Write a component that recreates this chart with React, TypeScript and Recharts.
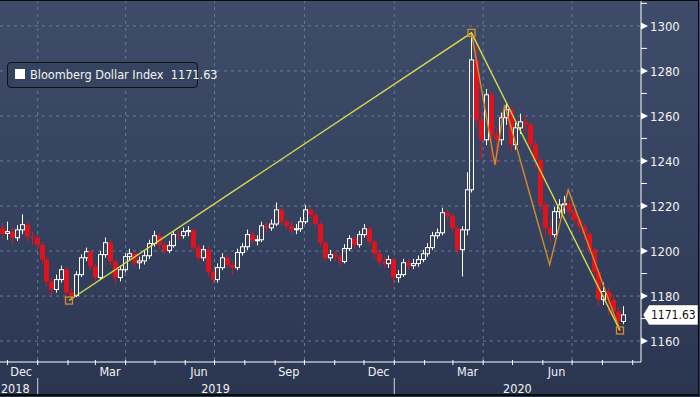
import React from "react";
import {
  ComposedChart,
  Bar,
  Scatter,
  XAxis,
  YAxis,
  CartesianGrid,
  ReferenceDot
} from "recharts";

const FONT = "'DejaVu Sans Condensed', 'Liberation Sans Narrow', 'Liberation Sans', sans-serif";

// candles: one every 5 calendar days, open = previous close
const firstDate = "2018-11-26";
const stepDays = 5;
const firstOpen = 1210.0;

const closes = [
  1207.8, 1208.6, 1205.9, 1209.4, 1211.7, 1206.4, 1205.9, 1202.8, 1196.2, 1186.4,
  1182.9, 1187.3, 1191.7, 1181.5, 1180.2, 1189.5, 1197.0, 1199.7, 1193.1, 1188.2,
  1198.4, 1203.7, 1195.3, 1188.2, 1191.7, 1197.5, 1198.8, 1194.8, 1195.6, 1197.9,
  1203.3, 1206.8, 1202.8, 1200.2, 1202.4, 1207.3, 1206.8, 1208.6, 1209.1, 1201.5,
  1197.0, 1200.6, 1190.8, 1187.3, 1192.6, 1197.0, 1193.9, 1192.6, 1199.3, 1201.9,
  1207.3, 1204.6, 1205.0, 1211.2, 1210.3, 1212.0, 1218.3, 1213.0, 1211.2, 1209.5,
  1209.9, 1213.0, 1218.3, 1216.1, 1212.1, 1203.7, 1197.0, 1198.4, 1197.5, 1195.3,
  1201.1, 1205.5, 1202.8, 1207.3, 1209.9, 1204.1, 1198.8, 1195.3, 1194.4, 1196.2,
  1188.2, 1189.5, 1194.8, 1193.5, 1194.4, 1196.2, 1198.8, 1201.5, 1206.8, 1208.1,
  1217.0, 1215.6, 1210.3, 1200.6, 1209.4, 1227.2, 1284.9, 1258.3, 1249.4, 1269.4,
  1251.6, 1249.4, 1259.2, 1262.8, 1247.2, 1254.7, 1257.4, 1256.1, 1247.2, 1240.5,
  1220.5, 1210.3, 1207.3, 1217.5, 1220.5, 1221.0, 1217.5, 1213.9, 1210.8, 1207.7,
  1200.6, 1190.8, 1178.4, 1182.0, 1178.4, 1173.1, 1168.7, 1171.63
];

const highs = [
  1212.5, 1213.0, 1210.5, 1211.5, 1216.3, 1213.0, 1208.5, 1207.5, 1204.0, 1197.5,
  1188.0, 1189.5, 1193.5, 1193.0, 1183.5, 1191.0, 1198.5, 1201.5, 1200.5, 1194.5,
  1200.0, 1206.0, 1205.0, 1196.5, 1193.5, 1199.0, 1201.0, 1200.0, 1197.5, 1200.0,
  1205.0, 1209.0, 1208.0, 1204.0, 1204.5, 1209.0, 1209.0, 1210.5, 1211.0, 1210.0,
  1203.0, 1202.5, 1202.0, 1192.0, 1194.5, 1199.0, 1198.5, 1195.5, 1201.0, 1203.5,
  1209.5, 1208.5, 1207.0, 1213.0, 1213.0, 1214.0, 1221.5, 1219.5, 1214.5, 1213.0,
  1212.0, 1215.0, 1220.5, 1219.5, 1217.5, 1213.0, 1204.5, 1200.5, 1200.0, 1198.5,
  1203.0, 1207.0, 1206.5, 1209.0, 1212.0, 1210.5, 1205.0, 1200.0, 1197.5, 1198.0,
  1197.0, 1191.5, 1196.5, 1196.5, 1196.5, 1198.0, 1200.5, 1203.5, 1208.5, 1210.0,
  1219.2, 1218.5, 1216.5, 1211.0, 1211.0, 1235.0, 1296.9, 1293.8, 1262.0, 1272.0,
  1271.0, 1255.0, 1261.5, 1265.5, 1264.0, 1257.0, 1261.0, 1260.0, 1257.5, 1249.0,
  1242.0, 1222.0, 1214.0, 1219.5, 1223.0, 1224.5, 1222.5, 1219.0, 1215.0, 1212.0,
  1208.5, 1201.5, 1192.0, 1186.0, 1184.0, 1180.5, 1175.0, 1175.5
];

const lows = [
  1205.5, 1205.0, 1203.0, 1204.5, 1207.5, 1204.0, 1202.5, 1200.5, 1194.0, 1184.5,
  1180.2, 1181.5, 1186.0, 1179.0, 1178.0, 1179.5, 1188.5, 1195.5, 1191.5, 1186.5,
  1187.5, 1197.0, 1193.5, 1185.0, 1186.5, 1190.5, 1196.0, 1193.0, 1192.0, 1194.0,
  1196.5, 1202.0, 1201.0, 1198.5, 1199.0, 1201.5, 1205.0, 1205.5, 1206.5, 1200.0,
  1195.5, 1195.5, 1189.0, 1185.5, 1186.0, 1191.5, 1192.0, 1189.5, 1191.5, 1198.0,
  1200.5, 1203.0, 1202.5, 1204.0, 1208.5, 1209.0, 1211.0, 1211.5, 1209.5, 1207.5,
  1207.5, 1208.5, 1212.0, 1214.5, 1210.5, 1202.0, 1195.5, 1195.5, 1195.5, 1193.5,
  1194.5, 1200.0, 1201.0, 1201.5, 1206.0, 1202.5, 1197.0, 1193.5, 1192.5, 1192.5,
  1185.0, 1186.0, 1188.5, 1191.5, 1192.0, 1193.0, 1195.0, 1197.5, 1200.5, 1205.5,
  1207.0, 1213.5, 1208.5, 1198.5, 1188.7, 1207.0, 1226.0, 1255.0, 1240.5, 1247.0,
  1241.0, 1238.5, 1247.0, 1256.0, 1244.0, 1245.0, 1252.0, 1252.5, 1244.5, 1237.0,
  1218.0, 1206.5, 1204.0, 1206.0, 1214.5, 1216.5, 1215.0, 1211.5, 1208.5, 1205.0,
  1198.5, 1188.5, 1175.5, 1176.0, 1171.5, 1170.0, 1164.7, 1167.5
];

const yellowTrend = [
  { date: "2019-02-02", value: 1178.0 },
  { date: "2020-03-20", value: 1296.9 },
  { date: "2020-08-19", value: 1164.7 }
];

const orangeTrend = [
  { date: "2020-03-20", value: 1296.9 },
  { date: "2020-04-13", value: 1238.3 },
  { date: "2020-04-23", value: 1264.9 },
  { date: "2020-06-08", value: 1193.9 },
  { date: "2020-06-27", value: 1227.2 },
  { date: "2020-08-19", value: 1164.7 }
];

const monthStarts = [
  "2018-12-01", "2019-01-01", "2019-02-01", "2019-03-01", "2019-04-01", "2019-05-01",
  "2019-06-01", "2019-07-01", "2019-08-01", "2019-09-01", "2019-10-01", "2019-11-01",
  "2019-12-01", "2020-01-01", "2020-02-01", "2020-03-01", "2020-04-01", "2020-05-01",
  "2020-06-01", "2020-07-01", "2020-08-01", "2020-09-01"
];
const quarterStarts = [
  "2019-01-01", "2019-04-01", "2019-07-01", "2019-10-01",
  "2020-01-01", "2020-04-01", "2020-07-01"
];
const yearStarts = ["2019-01-01", "2020-01-01"];
const monthLabelDates = [
  "2018-12-15", "2019-03-16", "2019-06-15", "2019-09-15",
  "2019-12-16", "2020-03-16", "2020-06-15"
];
const monthLabelTexts = ["Dec", "Mar", "Jun", "Sep", "Dec", "Mar", "Jun"];
const yearLabelDates = ["2018-12-09", "2019-07-02", "2020-05-06"];
const yearLabelTexts = ["2018", "2019", "2020"];

const yTicks = [1160, 1170, 1180, 1190, 1200, 1210, 1220, 1230, 1240, 1250, 1260, 1270, 1280, 1290, 1300, 1310];
const yGrid = [1160, 1180, 1200, 1220, 1240, 1260, 1280, 1300];
const lastValue = 1171.63;

const day0 = Date.UTC(2019, 0, 1);
const dayNum = (s: string) => {
  const [y, m, d] = s.split("-").map(Number);
  return (Date.UTC(y, m - 1, d) - day0) / 86400000;
};

const xDomain = [-38.6, 617.5];
const yDomain = [1150.7, 1311.5];

const candles = closes.map((close, i) => {
  const open = i === 0 ? firstOpen : closes[i - 1];
  return {
    day: dayNum(firstDate) + i * stepDays,
    open,
    close,
    high: highs[i],
    low: lows[i],
    range: [lows[i], highs[i]]
  };
});

const yellowPts = yellowTrend.map((p) => ({ day: dayNum(p.date), value: p.value }));
const orangePts = orangeTrend.map((p) => ({ day: dayNum(p.date), value: p.value }));

const monthStartDays = monthStarts.map(dayNum);
const yearStartDays = yearStarts.map(dayNum);
const monthLabelDays = monthLabelDates.map(dayNum);
const yearLabelDays = yearLabelDates.map(dayNum);
const xTicks = [...monthStartDays, ...monthLabelDays, ...yearLabelDays].sort((a, b) => a - b);

const RED = "#e0121c";

function Candle(props: any) {
  const { x, y, width, height, payload } = props;
  if (!payload || height == null) return null;
  const { open, close, high, low } = payload;
  const up = close >= open;
  const ratio = high > low ? height / (high - low) : 0;
  const top = y + (high - Math.max(open, close)) * ratio;
  const bot = y + (high - Math.min(open, close)) * ratio;
  const cx = Math.round(x + width / 2) + 0.5;
  const color = up ? "#ffffff" : RED;
  return (
    <g>
      <line x1={cx} x2={cx} y1={y} y2={top} stroke={color} strokeWidth={1} />
      <line x1={cx} x2={cx} y1={bot} y2={y + height} stroke={color} strokeWidth={1} />
      {up ? (
        <rect x={cx - 2} y={top} width={4} height={Math.max(bot - top, 1)} fill="none" stroke={color} strokeWidth={1} />
      ) : (
        <rect x={cx - 2.5} y={top} width={5} height={Math.max(bot - top, 1)} fill={color} />
      )}
    </g>
  );
}

function XTick(props: any) {
  const { x, y, payload } = props;
  const v = payload.value;
  const out: React.ReactNode[] = [];
  if (monthStartDays.includes(v)) {
    out.push(<line key="t" x1={x} x2={x} y1={y - 2} y2={y + 3} stroke="#ffffff" strokeWidth={1} />);
  }
  if (yearStartDays.includes(v)) {
    out.push(<line key="s" x1={x} x2={x} y1={y + 16} y2={y + 33} stroke="#cfd4dc" strokeWidth={1} />);
  }
  const mi = monthLabelDays.indexOf(v);
  if (mi >= 0) {
    out.push(
      <text key="m" x={x} y={y + 14} textAnchor="middle" fill="#f2f2f2" fontSize={12.5} fontFamily={FONT}>
        {monthLabelTexts[mi]}
      </text>
    );
  }
  const yi = yearLabelDays.indexOf(v);
  if (yi >= 0) {
    out.push(
      <text key="y" x={x} y={y + 31} textAnchor="middle" fill="#f2f2f2" fontSize={12.5} fontFamily={FONT}>
        {yearLabelTexts[yi]}
      </text>
    );
  }
  return <g>{out}</g>;
}

function YTick(props: any) {
  const { x, y, payload } = props;
  const v = payload.value;
  if (v % 20 === 0) {
    return (
      <g>
        <path d={`M${x} ${y - 3.5} L${x + 7} ${y} L${x} ${y + 3.5} Z`} fill="#ffffff" />
        <text x={x + 9} y={y + 5} fill="#f2f2f2" fontSize={13} fontFamily={FONT}>
          {v}
        </text>
      </g>
    );
  }
  return <line x1={x} x2={x + 6} y1={y} y2={y} stroke="#ffffff" strokeWidth={1} />;
}

function ValueTag(props: any) {
  const { cx, cy } = props;
  const l = cx + 2;
  return (
    <g>
      <path
        d={`M${l} ${cy} L${l + 6} ${cy - 10} L${l + 55} ${cy - 10} L${l + 55} ${cy + 10} L${l + 6} ${cy + 10} Z`}
        fill="#ffffff"
        stroke="#333"
        strokeWidth={0.5}
      />
      <text x={l + 8} y={cy + 4.5} fill="#111" fontSize={12} fontFamily={FONT}>
        {lastValue.toFixed(2)}
      </text>
    </g>
  );
}

const TrendBox = (p: any) => (
  <rect x={p.cx - 3.5} y={p.cy - 3.5} width={7} height={7} fill="none" stroke="#d98c2b" strokeWidth={1.3} />
);
const NoDot = () => <g />;

export default function App() {
  return (
    <div
      style={{
        position: "absolute",
        left: 0,
        top: 0,
        width: 700,
        height: 397,
        overflow: "hidden",
        background: "linear-gradient(to bottom, #3f4c69 0%, #35425f 55%, #2a3550 100%)"
      }}
    >
      <ComposedChart width={700} height={397} data={candles} margin={{ top: 0, right: 0, bottom: 0, left: 0 }}>
        <CartesianGrid
          stroke="#6a7a95"
          strokeDasharray="3 4"
          horizontalValues={yGrid}
          verticalValues={quarterStarts.map(dayNum)}
        />
        <XAxis
          dataKey="day"
          type="number"
          domain={xDomain}
          allowDataOverflow
          ticks={xTicks}
          interval={0}
          height={35}
          tickSize={0}
          tickMargin={0}
          tickLine={false}
          axisLine={{ stroke: "#ffffff", strokeWidth: 1 }}
          tick={<XTick />}
        />
        <YAxis
          orientation="right"
          type="number"
          domain={yDomain}
          allowDataOverflow
          ticks={yTicks}
          interval={0}
          width={59}
          tickSize={0}
          tickMargin={0}
          tickLine={false}
          axisLine={{ stroke: "#ffffff", strokeWidth: 1 }}
          tick={<YTick />}
        />
        <Bar dataKey="range" barSize={3} isAnimationActive={false} shape={(p: any) => <Candle {...p} />} />
        <Scatter
          data={orangePts}
          dataKey="value"
          line={{ stroke: "#d58a2c", strokeWidth: 1.4 }}
          shape={NoDot}
          isAnimationActive={false}
        />
        <Scatter
          data={yellowPts}
          dataKey="value"
          line={{ stroke: "#d4dc46", strokeWidth: 1.4 }}
          shape={TrendBox}
          isAnimationActive={false}
        />
        <ReferenceDot x={xDomain[1]} y={lastValue} ifOverflow="visible" shape={ValueTag} />
      </ComposedChart>
      <div
        style={{
          position: "absolute",
          left: 7,
          top: 62,
          width: 189,
          height: 24,
          border: "1px solid #111",
          borderRadius: 4,
          background: "#36435f",
          fontFamily: FONT,
          fontSize: 12.6,
          color: "#f2f2f2"
        }}
      >
        <div style={{ position: "absolute", left: 7, top: 6, width: 10, height: 10, background: "#ffffff" }} />
        <div style={{ position: "absolute", left: 22, top: 4, whiteSpace: "pre" }}>Bloomberg Dollar Index  1171.63</div>
      </div>
      <div
        style={{
          position: "absolute",
          left: 0,
          top: 0,
          width: 699,
          height: 396,
          borderTop: "1px solid #0b0b0b",
          borderRight: "1px solid #0b0b0b",
          borderBottom: "2px solid #0b0b0b",
          boxSizing: "border-box",
          pointerEvents: "none"
        }}
      />
    </div>
  );
}
